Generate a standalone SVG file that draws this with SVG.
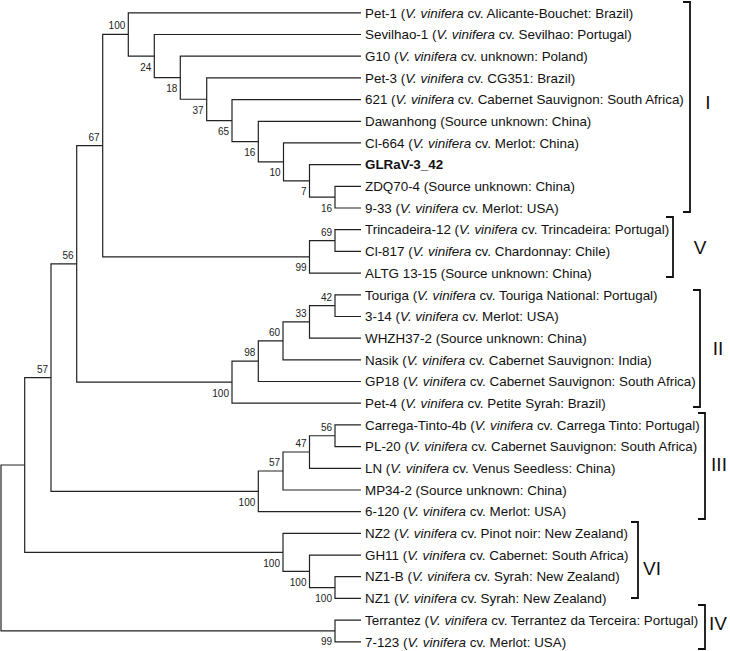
<svg xmlns="http://www.w3.org/2000/svg" width="730" height="651" viewBox="0 0 730 651">
<style>
.leaf{font-family:"Liberation Sans",Arial,sans-serif;font-size:13.4px;fill:#111}
.i{font-style:italic}
.b{font-weight:bold}
.bs{font-family:"Liberation Sans",Arial,sans-serif;font-size:10px;fill:#222;text-anchor:end}
.br{fill:none;stroke:#111;stroke-width:1.8}
.cl{font-family:"Liberation Sans",Arial,sans-serif;font-size:19px;fill:#111;text-anchor:middle}
.ln{fill:none;stroke:#222;stroke-width:1.2}
</style>
<rect width="730" height="651" fill="#fff"/>
<g id="connectors">
<path class="ln" d="M361 186.3H335V208H361"/>
<path class="ln" d="M361 164.6H309.5V197.15H335"/>
<path class="ln" d="M361 142.9H283.5V180.9H309.5"/>
<path class="ln" d="M361 121.3H258.3V161.9H283.5"/>
<path class="ln" d="M361 99.6H232V141.6H258.3"/>
<path class="ln" d="M361 77.9H206.7V120.6H232"/>
<path class="ln" d="M361 56.2H180.3V99.25H206.7"/>
<path class="ln" d="M361 34.5H154.3V77.7H180.3"/>
<path class="ln" d="M361 12.8H128.3V56.1H154.3"/>
<path class="ln" d="M361 229.7H335V251.4H361"/>
<path class="ln" d="M335 240.55H309.5V273.1H361"/>
<path class="ln" d="M128.3 34.45H102.7V256.8H309.5"/>
<path class="ln" d="M361 294.8H335V316.5H361"/>
<path class="ln" d="M335 305.65H309.5V338.2H361"/>
<path class="ln" d="M309.5 321.9H283V359.8H361"/>
<path class="ln" d="M283 340.85H258.3V381.5H361"/>
<path class="ln" d="M258.3 361.2H232V403.2H361"/>
<path class="ln" d="M102.7 145.6H76.7V382.2H232"/>
<path class="ln" d="M361 424.9H335V446.6H361"/>
<path class="ln" d="M335 435.75H309.5V468.3H361"/>
<path class="ln" d="M309.5 452H283V490H361"/>
<path class="ln" d="M283 471H258.3V511.7H361"/>
<path class="ln" d="M76.7 263.9H51V491.35H258.3"/>
<path class="ln" d="M361 576.7H335V598.4H361"/>
<path class="ln" d="M361 555.1H309.5V587.55H335"/>
<path class="ln" d="M361 533.4H283V571.3H309.5"/>
<path class="ln" d="M51 377.6H24.7V552.35H283"/>
<path class="ln" d="M361 620.1H335V641.8H361"/>
<path class="ln" d="M24.7 465H1V630.95H335"/>
</g>
<g id="support">
<g id="n_A100"><text class="bs" x="125.3" y="29.4">100</text></g>
<g id="n_24"><text class="bs" x="151.3" y="70.6">24</text></g>
<g id="n_18"><text class="bs" x="177.3" y="92.2">18</text></g>
<g id="n_37"><text class="bs" x="203.7" y="113.7">37</text></g>
<g id="n_65"><text class="bs" x="229" y="135.1">65</text></g>
<g id="n_16a"><text class="bs" x="255.3" y="156.1">16</text></g>
<g id="n_10"><text class="bs" x="280.5" y="176.4">10</text></g>
<g id="n_7"><text class="bs" x="306.5" y="195.4">7</text></g>
<g id="n_16b"><text class="bs" x="332" y="211.6">16</text></g>
<g id="n_67"><text class="bs" x="99.7" y="140.6">67</text></g>
<g id="n_V99"><text class="bs" x="306.5" y="271.3">99</text></g>
<g id="n_69"><text class="bs" x="332" y="235.5">69</text></g>
<g id="n_56"><text class="bs" x="73.7" y="258.9">56</text></g>
<g id="n_II100"><text class="bs" x="229" y="396.7">100</text></g>
<g id="n_98"><text class="bs" x="255.3" y="356.2">98</text></g>
<g id="n_60"><text class="bs" x="280" y="335.8">60</text></g>
<g id="n_33"><text class="bs" x="306.5" y="316.9">33</text></g>
<g id="n_42"><text class="bs" x="332" y="300.6">42</text></g>
<g id="n_57"><text class="bs" x="48" y="372.6">57</text></g>
<g id="n_III100"><text class="bs" x="255.3" y="505.8">100</text></g>
<g id="n_57b"><text class="bs" x="280" y="466">57</text></g>
<g id="n_47"><text class="bs" x="306.5" y="447">47</text></g>
<g id="n_56b"><text class="bs" x="332" y="430.7">56</text></g>
<g id="n_VI100"><text class="bs" x="280" y="566.8">100</text></g>
<g id="n_100b"><text class="bs" x="306.5" y="585.8">100</text></g>
<g id="n_100c"><text class="bs" x="332" y="602">100</text></g>
<g id="n_IV99"><text class="bs" x="332" y="645.4">99</text></g>
</g>
<g id="leaves">
<g id="leaf1"><text class="leaf" x="365" y="17.5">Pet-1 (<tspan class="i">V. vinifera</tspan> cv. Alicante-Bouchet: Brazil)</text></g>
<g id="leaf2"><text class="leaf" x="365" y="39.2">Sevilhao-1 (<tspan class="i">V. vinifera</tspan> cv. Sevilhao: Portugal)</text></g>
<g id="leaf3"><text class="leaf" x="365" y="60.9">G10 (<tspan class="i">V. vinifera</tspan> cv. unknown: Poland)</text></g>
<g id="leaf4"><text class="leaf" x="365" y="82.6">Pet-3 (<tspan class="i">V. vinifera</tspan> cv. CG351: Brazil)</text></g>
<g id="leaf5"><text class="leaf" x="365" y="104.3">621 (<tspan class="i">V. vinifera</tspan> cv. Cabernet Sauvignon: South Africa)</text></g>
<g id="leaf6"><text class="leaf" x="365" y="126">Dawanhong (Source unknown: China)</text></g>
<g id="leaf7"><text class="leaf" x="365" y="147.6">Cl-664 (<tspan class="i">V. vinifera</tspan> cv. Merlot: China)</text></g>
<g id="leaf8"><text class="leaf b" x="365" y="169.3">GLRaV-3_42</text></g>
<g id="leaf9"><text class="leaf" x="365" y="191">ZDQ70-4 (Source unknown: China)</text></g>
<g id="leaf10"><text class="leaf" x="365" y="212.7">9-33 (<tspan class="i">V. vinifera</tspan> cv. Merlot: USA)</text></g>
<g id="leaf11"><text class="leaf" x="365" y="234.4">Trincadeira-12 (<tspan class="i">V. vinifera</tspan> cv. Trincadeira: Portugal)</text></g>
<g id="leaf12"><text class="leaf" x="365" y="256.1">Cl-817 (<tspan class="i">V. vinifera</tspan> cv. Chardonnay: Chile)</text></g>
<g id="leaf13"><text class="leaf" x="365" y="277.8">ALTG 13-15 (Source unknown: China)</text></g>
<g id="leaf14"><text class="leaf" x="365" y="299.5">Touriga (<tspan class="i">V. vinifera</tspan> cv. Touriga National: Portugal)</text></g>
<g id="leaf15"><text class="leaf" x="365" y="321.2">3-14 (<tspan class="i">V. vinifera</tspan> cv. Merlot: USA)</text></g>
<g id="leaf16"><text class="leaf" x="365" y="342.9">WHZH37-2 (Source unknown: China)</text></g>
<g id="leaf17"><text class="leaf" x="365" y="364.5">Nasik (<tspan class="i">V. vinifera</tspan> cv. Cabernet Sauvignon: India)</text></g>
<g id="leaf18"><text class="leaf" x="365" y="386.2">GP18 (<tspan class="i">V. vinifera</tspan> cv. Cabernet Sauvignon: South Africa)</text></g>
<g id="leaf19"><text class="leaf" x="365" y="407.9">Pet-4 (<tspan class="i">V. vinifera</tspan> cv. Petite Syrah: Brazil)</text></g>
<g id="leaf20"><text class="leaf" x="365" y="429.6">Carrega-Tinto-4b (<tspan class="i">V. vinifera</tspan> cv. Carrega Tinto: Portugal)</text></g>
<g id="leaf21"><text class="leaf" x="365" y="451.3">PL-20 (<tspan class="i">V. vinifera</tspan> cv. Cabernet Sauvignon: South Africa)</text></g>
<g id="leaf22"><text class="leaf" x="365" y="473">LN (<tspan class="i">V. vinifera</tspan> cv. Venus Seedless: China)</text></g>
<g id="leaf23"><text class="leaf" x="365" y="494.7">MP34-2 (Source unknown: China)</text></g>
<g id="leaf24"><text class="leaf" x="365" y="516.4">6-120 (<tspan class="i">V. vinifera</tspan> cv. Merlot: USA)</text></g>
<g id="leaf25"><text class="leaf" x="365" y="538.1">NZ2 (<tspan class="i">V. vinifera</tspan> cv. Pinot noir: New Zealand)</text></g>
<g id="leaf26"><text class="leaf" x="365" y="559.8">GH11 (<tspan class="i">V. vinifera</tspan> cv. Cabernet: South Africa)</text></g>
<g id="leaf27"><text class="leaf" x="365" y="581.4">NZ1-B (<tspan class="i">V. vinifera</tspan> cv. Syrah: New Zealand)</text></g>
<g id="leaf28"><text class="leaf" x="365" y="603.1">NZ1 (<tspan class="i">V. vinifera</tspan> cv. Syrah: New Zealand)</text></g>
<g id="leaf29"><text class="leaf" x="365" y="624.8">Terrantez (<tspan class="i">V. vinifera</tspan> cv. Terrantez da Terceira: Portugal)</text></g>
<g id="leaf30"><text class="leaf" x="365" y="646.5">7-123 (<tspan class="i">V. vinifera</tspan> cv. Merlot: USA)</text></g>
</g>
<g id="clades">
<g id="clade_I"><path class="br" d="M683 2H690V212H683"/><text class="cl" x="708" y="108.5">I</text></g>
<g id="clade_V"><path class="br" d="M666 217H673V277H666"/><text class="cl" x="700" y="253.5">V</text></g>
<g id="clade_II"><path class="br" d="M693 290H700V407H693"/><text class="cl" x="718" y="354.5">II</text></g>
<g id="clade_III"><path class="br" d="M698 413H705V519H698"/><text class="cl" x="719" y="470.5">III</text></g>
<g id="clade_VI"><path class="br" d="M631 522H638V598H631"/><text class="cl" x="652" y="574.5">VI</text></g>
<g id="clade_IV"><path class="br" d="M698 605H705V649H698"/><text class="cl" x="718" y="629.5">IV</text></g>
</g>
</svg>
